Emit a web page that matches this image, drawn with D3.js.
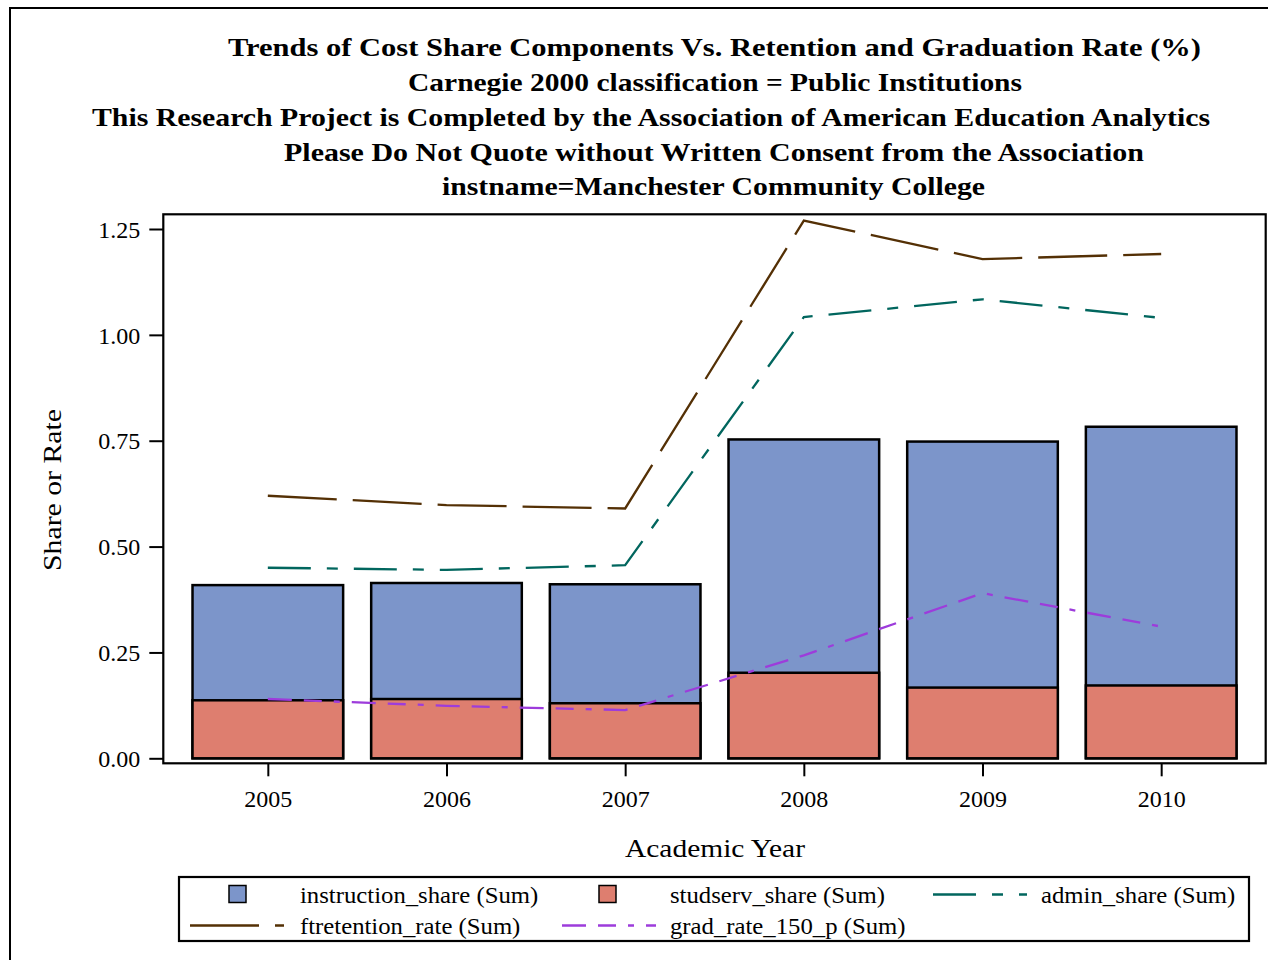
<!DOCTYPE html>
<html>
<head>
<meta charset="utf-8">
<script src="https://cdn.jsdelivr.net/npm/d3@7"></script>
<style>
  html, body { margin: 0; padding: 0; background: #fff; }
  svg { display: block; }
  text { font-family: "Liberation Serif", "Times New Roman", serif; fill: #000; }
</style>
</head>
<body>
<svg id="chart" width="1268" height="960"></svg>
<script>
// ---------------- data ----------------
const years = ["2005", "2006", "2007", "2008", "2009", "2010"];
const instructionShare = [0.409, 0.414, 0.411, 0.753, 0.748, 0.783];
const studservShare    = [0.137, 0.140, 0.130, 0.202, 0.167, 0.172];
const adminShare       = [0.450, 0.445, 0.456, 1.042, 1.084, 1.040];
const ftretentionRate  = [0.620, 0.598, 0.590, 1.270, 1.179, 1.191];
const gradRate150      = [0.140, 0.124, 0.114, 0.243, 0.390, 0.311];
const yTicks = [0, 0.25, 0.5, 0.75, 1.0, 1.25];

const titleLines = [
  "Trends of Cost Share Components Vs. Retention and Graduation Rate (%)",
  "Carnegie 2000 classification = Public Institutions",
  "This Research Project is Completed by the Association of American Education Analytics",
  "Please Do Not Quote without Written Consent from the Association",
  "instname=Manchester Community College"
];
const legendLabels = [
  "instruction_share (Sum)", "studserv_share (Sum)", "admin_share (Sum)",
  "ftretention_rate (Sum)", "grad_rate_150_p (Sum)"
];

// ---------------- layout / style ----------------
const svg = d3.select("#chart");
const frame = { left: 163.3, top: 214.3, right: 1265.7, bottom: 763.3 };
const colors = {
  instrFill: "#7C95CA", studFill: "#DE7E6F",
  admin: "#01665E", ftret: "#543005", grad: "#9D3CDB"
};
const dashes = { admin: "43,16,11,16", ftret: "69,16", grad: "24,12,18,12,6,12" };

// outer border
svg.append("rect").attr("x", 10).attr("y", 8).attr("width", 1270).attr("height", 970)
  .attr("fill", "none").attr("stroke", "#000").attr("stroke-width", 2);

// titles
const titleGeom = [
  { x0: 228, x1: 1201, y: 56 },
  { x0: 408, x1: 1022, y: 91 },
  { x0: 92,  x1: 1210, y: 126 },
  { x0: 284, x1: 1144, y: 161 },
  { x0: 442, x1: 985,  y: 195 }
];
titleLines.forEach((t, i) => {
  const g = titleGeom[i];
  svg.append("text")
    .attr("x", g.x0).attr("y", g.y)
    .attr("font-size", 26).attr("font-weight", "bold")
    .attr("textLength", g.x1 - g.x0).attr("lengthAdjust", "spacingAndGlyphs")
    .text(t);
});

// scales
const x = d3.scalePoint().domain(years).range([frame.left, frame.right]).padding(0.585);
const y = d3.scaleLinear().domain([0, 1.25]).range([758.3, 229.0]);
const barW = x.step() * 0.843;

// bars: instruction (back), studserv (front), both from zero
const barsG = svg.append("g");
barsG.selectAll("rect.instr").data(years).join("rect")
  .attr("class", "instr")
  .attr("x", d => x(d) - barW / 2)
  .attr("width", barW)
  .attr("y", (d, i) => y(instructionShare[i]))
  .attr("height", (d, i) => y(0) - y(instructionShare[i]))
  .attr("fill", colors.instrFill).attr("stroke", "#000").attr("stroke-width", 2.5);
barsG.selectAll("rect.stud").data(years).join("rect")
  .attr("class", "stud")
  .attr("x", d => x(d) - barW / 2)
  .attr("width", barW)
  .attr("y", (d, i) => y(studservShare[i]))
  .attr("height", (d, i) => y(0) - y(studservShare[i]))
  .attr("fill", colors.studFill).attr("stroke", "#000").attr("stroke-width", 2.5);

// lines
const line = d3.line().x(d => x(d[0])).y(d => y(d[1]));
function drawSeries(vals, color, dash) {
  svg.append("path")
    .datum(years.map((yr, i) => [yr, vals[i]]))
    .attr("d", line)
    .attr("fill", "none").attr("stroke", color).attr("stroke-width", 2.3)
    .attr("stroke-dasharray", dash);
}
drawSeries(adminShare, colors.admin, dashes.admin);
drawSeries(ftretentionRate, colors.ftret, dashes.ftret);
drawSeries(gradRate150, colors.grad, dashes.grad);

// frame
svg.append("rect")
  .attr("x", frame.left).attr("y", frame.top)
  .attr("width", frame.right - frame.left).attr("height", frame.bottom - frame.top)
  .attr("fill", "none").attr("stroke", "#000").attr("stroke-width", 2.2);

// y axis
const yAxis = svg.append("g").attr("transform", `translate(${frame.left},0)`)
  .call(d3.axisLeft(y).tickValues(yTicks).tickFormat(d3.format(".2f")).tickSize(14).tickPadding(9));
yAxis.select(".domain").remove();
yAxis.selectAll("line").attr("stroke", "#000").attr("stroke-width", 2);
yAxis.selectAll("text").attr("font-size", 24).attr("dy", "0.34em");

// x axis
const xAxis = svg.append("g").attr("transform", `translate(0,${frame.bottom})`)
  .call(d3.axisBottom(x).tickSize(13).tickPadding(9));
xAxis.select(".domain").remove();
xAxis.selectAll("line").attr("stroke", "#000").attr("stroke-width", 2);
xAxis.selectAll("text").attr("font-size", 24).attr("y", 43.4).attr("dy", 0);

// axis titles
svg.append("text")
  .attr("transform", "translate(61,490) rotate(-90)")
  .attr("text-anchor", "middle").attr("font-size", 26)
  .attr("textLength", 162).attr("lengthAdjust", "spacingAndGlyphs")
  .text("Share or Rate");
svg.append("text")
  .attr("x", 625).attr("y", 857).attr("font-size", 26)
  .attr("textLength", 180).attr("lengthAdjust", "spacingAndGlyphs")
  .text("Academic Year");

// legend
const leg = svg.append("g");
leg.append("rect").attr("x", 179).attr("y", 877).attr("width", 1070).attr("height", 64)
  .attr("fill", "none").attr("stroke", "#000").attr("stroke-width", 2.2);
const row1 = 894.5, row2 = 925.5;
const legItems = [
  { type: "box", fill: colors.instrFill, sx: 229, tx: 300, row: row1 },
  { type: "box", fill: colors.studFill, sx: 599, tx: 670, row: row1 },
  { type: "line", color: colors.admin, dash: dashes.admin, sx: 933, tx: 1041, row: row1 },
  { type: "line", color: colors.ftret, dash: dashes.ftret, sx: 190, tx: 300, row: row2 },
  { type: "line", color: colors.grad, dash: dashes.grad, sx: 562, tx: 670, row: row2 }
];
legItems.forEach((it, i) => {
  if (it.type === "box") {
    leg.append("rect").attr("x", it.sx).attr("y", it.row - 9).attr("width", 17).attr("height", 17)
      .attr("fill", it.fill).attr("stroke", "#000").attr("stroke-width", 1.5);
  } else {
    leg.append("line").attr("x1", it.sx).attr("x2", it.sx + 94)
      .attr("y1", it.row).attr("y2", it.row)
      .attr("stroke", it.color).attr("stroke-width", 2.3).attr("stroke-dasharray", it.dash);
  }
  const t = leg.append("text").attr("x", it.tx).attr("y", it.row + 8).attr("font-size", 24)
    .text(legendLabels[i]);
  const w = t.node().getComputedTextLength();
  t.attr("textLength", w * 1.03).attr("lengthAdjust", "spacingAndGlyphs");
});
</script>
</body>
</html>
